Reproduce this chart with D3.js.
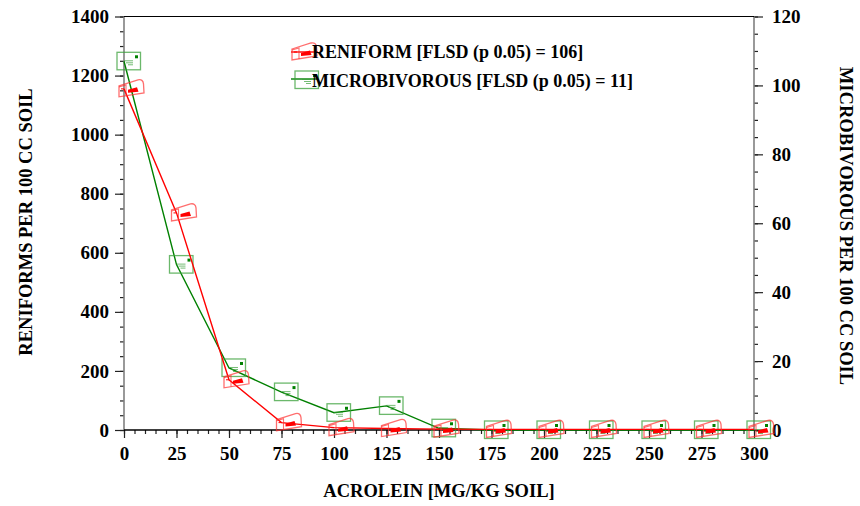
<!DOCTYPE html>
<html>
<head>
<meta charset="utf-8">
<script src="https://cdn.jsdelivr.net/npm/d3@7/dist/d3.min.js"></script>
<style>
  html, body { margin: 0; padding: 0; background: #fff; }
  svg { display: block; }
  text { font-family: "Liberation Serif", "Times New Roman", serif; font-weight: bold; fill: #000; }
</style>
</head>
<body>
<svg id="chart" width="860" height="506"></svg>
<script>
// Acrolein dose (mg/kg soil) and nematode counts per 100 cc soil
const acrolein = [0, 25, 50, 75, 100, 125, 150, 175, 200, 225, 250, 275, 300];
const reniform = [1155, 735, 170, 25, 8, 5, 3, 2, 2, 2, 2, 2, 2];
const microbivorous = [107, 48, 18, 11, 5, 7, 0.5, 0, 0, 0, 0, 0, 0];

const xTicks = [0, 25, 50, 75, 100, 125, 150, 175, 200, 225, 250, 275, 300];
const leftTicks = [0, 200, 400, 600, 800, 1000, 1200, 1400];
const rightTicks = [0, 20, 40, 60, 80, 100, 120];

const legendLabels = ["RENIFORM [FLSD (p 0.05) = 106]", "MICROBIVOROUS [FLSD (p 0.05) = 11]"];
const xTitle = "ACROLEIN [MG/KG SOIL]";
const leftTitle = "RENIFORMS PER 100 CC SOIL";
const rightTitle = "MICROBIVOROUS PER 100 CC SOIL";

const svg = d3.select("#chart");
const x = d3.scaleLinear().domain([0, 300]).range([124, 754]);
const yL = d3.scaleLinear().domain([0, 1400]).range([430, 16.5]);
const yR = d3.scaleLinear().domain([0, 120]).range([430, 16.5]);

// ---- axes ----
function styleAxis(g) {
  g.select(".domain").remove();
  g.selectAll(".tick line").attr("stroke", "#222").attr("stroke-width", 1.2);
  g.selectAll(".tick text").style("font-size", "19px");
  return g;
}

// minor ticks
svg.append("g").attr("transform", "translate(124,0)")
  .call(d3.axisLeft(yL).tickValues(d3.range(0, 1401, 50)).tickSize(4).tickFormat(""))
  .call(styleAxis);
svg.append("g").attr("transform", "translate(754,0)")
  .call(d3.axisRight(yR).tickValues(d3.range(0, 121, 5)).tickSize(4).tickFormat(""))
  .call(styleAxis);
svg.append("g").attr("transform", "translate(0,430)")
  .call(d3.axisBottom(x).tickValues(d3.range(0, 301, 5)).tickSize(4).tickFormat(""))
  .call(styleAxis);

// major ticks + labels
svg.append("g").attr("transform", "translate(124,0)")
  .call(d3.axisLeft(yL).tickValues(leftTicks).tickSize(9).tickPadding(6).tickFormat(d3.format("d")))
  .call(styleAxis);
svg.append("g").attr("transform", "translate(754,0)")
  .call(d3.axisRight(yR).tickValues(rightTicks).tickSize(9).tickPadding(9).tickFormat(d3.format("d")))
  .call(styleAxis);
svg.append("g").attr("transform", "translate(0,430)")
  .call(d3.axisBottom(x).tickValues(xTicks).tickSize(8).tickPadding(9).tickFormat(d3.format("d")))
  .call(styleAxis);

// axis lines
svg.append("line").attr("x1", 124).attr("x2", 124).attr("y1", yL(1400)).attr("y2", yL(0))
  .attr("stroke", "#808080").attr("stroke-width", 1.6);
svg.append("line").attr("x1", 754).attr("x2", 754).attr("y1", yR(120)).attr("y2", yR(0))
  .attr("stroke", "#808080").attr("stroke-width", 1.6);
svg.append("line").attr("x1", 124).attr("x2", 754).attr("y1", 430).attr("y2", 430)
  .attr("stroke", "#000").attr("stroke-width", 1.4);
svg.append("line").attr("x1", 124).attr("x2", 754).attr("y1", yL(1400)).attr("y2", yL(1400))
  .attr("stroke", "#000").attr("stroke-width", 1.2);

// axis titles
svg.append("text").attr("x", 439).attr("y", 497).attr("text-anchor", "middle")
  .style("font-size", "18.5px").text(xTitle);
svg.append("text").attr("transform", "translate(32,222) rotate(-90)").attr("text-anchor", "middle")
  .style("font-size", "18.5px").text(leftTitle);
svg.append("text").attr("transform", "translate(840,226) rotate(90)").attr("text-anchor", "middle")
  .style("font-size", "18.5px").text(rightTitle);

// ---- markers ----
function greenMarker(g) {
  g.append("rect").attr("x", -7).attr("y", -9).attr("width", 23.5).attr("height", 17.5)
    .attr("fill", "none").attr("stroke", "#3aa03a").attr("stroke-opacity", 0.75).attr("stroke-width", 1.3);
  g.append("rect").attr("x", 11).attr("y", -6).attr("width", 3).attr("height", 3).attr("fill", "#008000");
  g.append("path").attr("d", "M0,-0.5H9M2,1.5H9M4,3.5H9")
    .attr("stroke", "#3aa03a").attr("stroke-opacity", 0.7).attr("stroke-width", 1);
}
function redMarker(g) {
  g.append("path").attr("d", "M-5,-3 L14,-9 Q19,-10 19.5,-5 L20,4 L-5,8 Z")
    .attr("fill", "none").attr("stroke", "#ff3030").attr("stroke-opacity", 0.7).attr("stroke-width", 1.3);
  g.append("path").attr("d", "M-5,-2 L2,-4 L2,7")
    .attr("fill", "none").attr("stroke", "#ff3030").attr("stroke-opacity", 0.7).attr("stroke-width", 1.1);
  g.append("path").attr("d", "M-3,0H0")
    .attr("stroke", "#ff0000").attr("stroke-width", 1);
  g.append("path").attr("d", "M4,1 L13,-1.5 L14.5,3 L4,4 Z").attr("fill", "#ff0000");
}

// ---- series ----
const greenData = acrolein.map((a, i) => [a, microbivorous[i]]);
const redData = acrolein.map((a, i) => [a, reniform[i]]);

const lineR = d3.line().x(d => x(d[0])).y(d => yR(d[1]));
const lineL = d3.line().x(d => x(d[0])).y(d => yL(d[1]));

svg.append("path").datum(greenData).attr("d", lineR)
  .attr("fill", "none").attr("stroke", "#008000").attr("stroke-width", 1.4);
svg.append("g").selectAll("g").data(greenData).join("g")
  .attr("transform", d => `translate(${x(d[0])},${yR(d[1])})`)
  .each(function () { greenMarker(d3.select(this)); });

svg.append("path").datum(redData).attr("d", lineL)
  .attr("fill", "none").attr("stroke", "#ff0000").attr("stroke-width", 1.4);
svg.append("g").selectAll("g").data(redData).join("g")
  .attr("transform", d => `translate(${x(d[0])},${yL(d[1])})`)
  .each(function () { redMarker(d3.select(this)); });

// ---- legend ----
const legend = svg.append("g");
legend.append("line").attr("x1", 291).attr("x2", 318).attr("y1", 52).attr("y2", 52)
  .attr("stroke", "#ff0000").attr("stroke-width", 1.4);
redMarker(legend.append("g").attr("transform", "translate(297,52)"));
legend.append("text").attr("x", 312).attr("y", 58).style("font-size", "18px").text(legendLabels[0]);

legend.append("line").attr("x1", 291).attr("x2", 318).attr("y1", 79).attr("y2", 79)
  .attr("stroke", "#008000").attr("stroke-width", 1.4);
greenMarker(legend.append("g").attr("transform", "translate(302,80)"));
legend.append("text").attr("x", 312).attr("y", 87).style("font-size", "18px").text(legendLabels[1]);
</script>
</body>
</html>
